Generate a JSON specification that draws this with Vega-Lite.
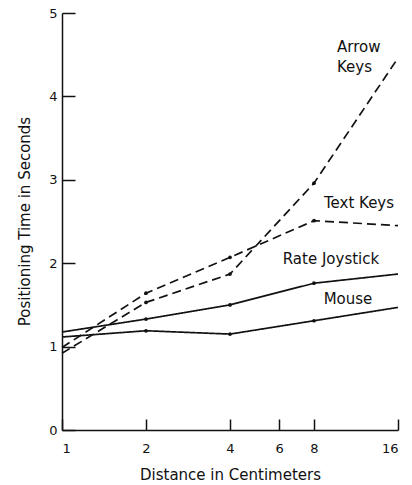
{
  "$schema": "https://vega.github.io/schema/vega-lite/v6.json",
  "autosize": {"type": "none"},
  "width": 336,
  "height": 417,
  "padding": {"left": 62, "top": 13, "right": 14, "bottom": 55},
  "background": "white",
  "config": {
    "view": {"stroke": null},
    "font": "DejaVu Sans",
    "axis": {
      "grid": false,
      "domainColor": "#111",
      "domainWidth": 1.5,
      "tickColor": "#111",
      "tickWidth": 1.5,
      "labelFont": "DejaVu Sans",
      "labelFontSize": 13,
      "labelColor": "#111",
      "titleFont": "DejaVu Sans",
      "titleFontSize": 15,
      "titleFontWeight": "normal",
      "titleColor": "#111"
    }
  },
  "data": {
    "values": [
      {"d": 1, "t": 0.92, "s": "Arrow Keys"},
      {"d": 2, "t": 1.53, "s": "Arrow Keys"},
      {"d": 4, "t": 1.87, "s": "Arrow Keys"},
      {"d": 8, "t": 2.96, "s": "Arrow Keys"},
      {"d": 16, "t": 4.46, "s": "Arrow Keys"},
      {"d": 1, "t": 0.99, "s": "Text Keys"},
      {"d": 2, "t": 1.64, "s": "Text Keys"},
      {"d": 4, "t": 2.07, "s": "Text Keys"},
      {"d": 8, "t": 2.51, "s": "Text Keys"},
      {"d": 16, "t": 2.45, "s": "Text Keys"},
      {"d": 1, "t": 1.175, "s": "Rate Joystick"},
      {"d": 2, "t": 1.33, "s": "Rate Joystick"},
      {"d": 4, "t": 1.5, "s": "Rate Joystick"},
      {"d": 8, "t": 1.76, "s": "Rate Joystick"},
      {"d": 16, "t": 1.87, "s": "Rate Joystick"},
      {"d": 1, "t": 1.115, "s": "Mouse"},
      {"d": 2, "t": 1.19, "s": "Mouse"},
      {"d": 4, "t": 1.15, "s": "Mouse"},
      {"d": 8, "t": 1.31, "s": "Mouse"},
      {"d": 16, "t": 1.47, "s": "Mouse"}
    ]
  },
  "encoding": {
    "x": {
      "field": "d",
      "type": "quantitative",
      "scale": {"type": "log", "base": 2, "domain": [1, 16], "nice": false},
      "axis": {
        "title": "Distance in Centimeters",
        "values": [1, 2, 4, 6, 8, 16],
        "format": "d",
        "tickSize": -11,
        "labelPadding": 23,
        "titleBaseline": "alphabetic",
        "titleY": 49
      }
    },
    "y": {
      "field": "t",
      "type": "quantitative",
      "scale": {"domain": [0, 5], "nice": false},
      "axis": {
        "title": "Positioning Time in Seconds",
        "values": [0, 1, 2, 3, 4, 5],
        "tickSize": -13,
        "labelPadding": 18,
        "titleX": -30,
        "titleY": 208
      }
    }
  },
  "layer": [
    {
      "mark": {"type": "line", "color": "#111", "strokeWidth": 1.7},
      "encoding": {
        "detail": {"field": "s"},
        "strokeDash": {
          "field": "s",
          "type": "nominal",
          "scale": {
            "domain": ["Arrow Keys", "Text Keys", "Rate Joystick", "Mouse"],
            "range": [[9, 5], [9, 5], [1, 0], [1, 0]]
          },
          "legend": null
        }
      }
    },
    {
      "transform": [{"filter": "datum.d == 2 || datum.d == 4 || datum.d == 8"}],
      "mark": {"type": "point", "filled": true, "color": "#111", "size": 14, "opacity": 1}
    },
    {
      "transform": [{"filter": "datum.d == 16 && datum.s == 'Arrow Keys'"}],
      "mark": {"type": "text", "text": ["Arrow", "Keys"], "lineHeight": 20, "fontSize": 15, "color": "#111", "align": "left", "baseline": "middle", "dx": -61, "dy": -11}
    },
    {
      "transform": [{"filter": "datum.d == 16 && datum.s == 'Text Keys'"}],
      "mark": {"type": "text", "fontSize": 15, "color": "#111", "align": "center", "baseline": "middle", "dx": -39, "dy": -23},
      "encoding": {"text": {"field": "s"}}
    },
    {
      "transform": [{"filter": "datum.d == 16 && datum.s == 'Rate Joystick'"}],
      "mark": {"type": "text", "fontSize": 15, "color": "#111", "align": "center", "baseline": "middle", "dx": -67, "dy": -15},
      "encoding": {"text": {"field": "s"}}
    },
    {
      "transform": [{"filter": "datum.d == 16 && datum.s == 'Mouse'"}],
      "mark": {"type": "text", "fontSize": 15, "color": "#111", "align": "center", "baseline": "middle", "dx": -50, "dy": -8},
      "encoding": {"text": {"field": "s"}}
    }
  ]
}
